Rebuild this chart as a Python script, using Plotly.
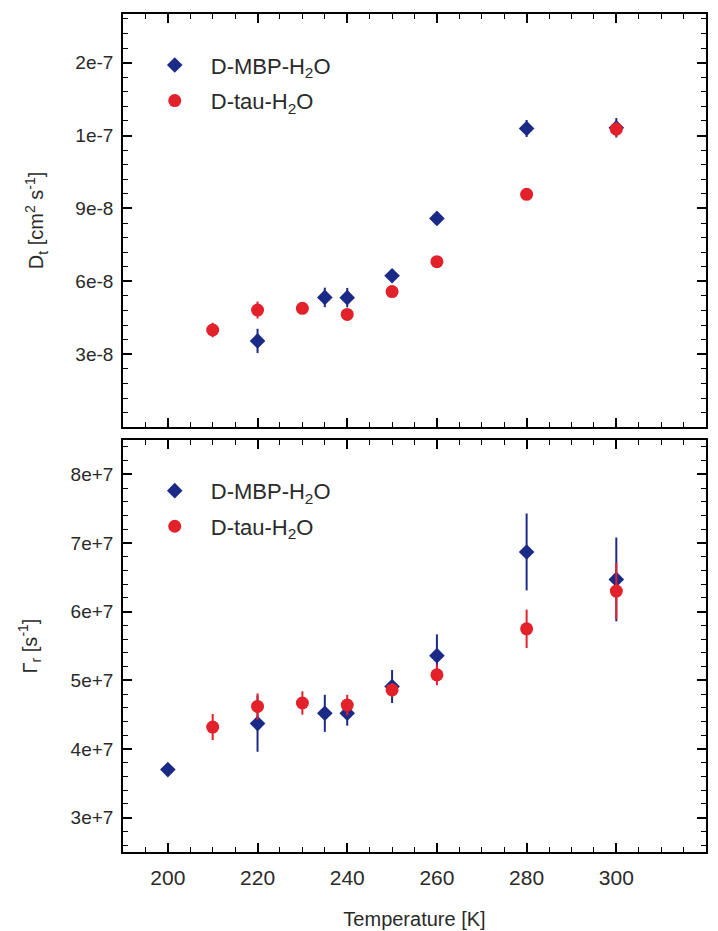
import plotly.graph_objects as go

# ---------------- data ----------------
temp_mbp_top = [220, 235, 240, 250, 260, 280, 300]
dt_mbp = [3.55e-8, 5.34e-8, 5.33e-8, 6.23e-8, 8.59e-8, 1.229e-7, 1.232e-7]
dt_mbp_err = [0.5e-8, 0.4e-8, 0.4e-8, 0.15e-8, 0.12e-8, 0.35e-8, 0.4e-8]

temp_tau_top = [210, 220, 230, 240, 250, 260, 280, 300]
dt_tau = [4.0e-8, 4.82e-8, 4.89e-8, 4.64e-8, 5.58e-8, 6.81e-8, 9.58e-8, 1.226e-7]
dt_tau_err = [0.3e-8, 0.35e-8, 0.2e-8, 0.1e-8, 0.1e-8, 0.1e-8, 0.1e-8, 0.3e-8]

temp_mbp_bot = [200, 220, 235, 240, 250, 260, 280, 300]
gr_mbp = [3.70e7, 4.37e7, 4.52e7, 4.52e7, 4.91e7, 5.36e7, 6.87e7, 6.47e7]
gr_mbp_err = [0.0, 0.41e7, 0.27e7, 0.18e7, 0.24e7, 0.31e7, 0.56e7, 0.61e7]

temp_tau_bot = [210, 220, 230, 240, 250, 260, 280, 300]
gr_tau = [4.32e7, 4.62e7, 4.67e7, 4.64e7, 4.86e7, 5.08e7, 5.75e7, 6.30e7]
gr_tau_err = [0.19e7, 0.19e7, 0.17e7, 0.15e7, 0.1e7, 0.15e7, 0.28e7, 0.41e7]

# tick labels as printed in the original (one significant digit)
top_tick_raw = ["0.3e-7", "0.6e-7", "0.9e-7", "1.2e-7", "1.5e-7"]
top_tick_text = ["3e-8", "6e-8", "9e-8", "1e-7", "2e-7"]

MINUS = "\u2212"
top_label_alias = {}
for raw, txt in zip(top_tick_raw, top_tick_text):
    top_label_alias[raw] = txt
    top_label_alias[raw.replace("-", MINUS)] = txt

NAME_MBP = "D-MBP-H<sub>2</sub>O"
NAME_TAU = "D-tau-H<sub>2</sub>O"

BLUE = "#1c2a87"
RED = "#e3212b"
FONT = "Liberation Sans"
TXT = "#2a2a2a"

fig = go.Figure()

def add(x, y, err, color, symbol, size, name, xa, ya, legend):
    fig.add_trace(go.Scatter(
        x=x, y=y, mode="markers", name=name, xaxis=xa, yaxis=ya, legend=legend,
        legendgroup=f"{legend}-{symbol}",
        marker=dict(color=color, symbol=symbol, size=size, line=dict(width=0)),
        error_y=dict(type="data", array=err, visible=True, color=color,
                     thickness=2, width=0),
    ))

add(temp_mbp_top, dt_mbp, dt_mbp_err, BLUE, "diamond", 12, NAME_MBP, "x", "y", "legend")
add(temp_tau_top, dt_tau, dt_tau_err, RED, "circle", 13, NAME_TAU, "x", "y", "legend")
add(temp_mbp_bot, gr_mbp, gr_mbp_err, BLUE, "diamond", 12, NAME_MBP, "x2", "y2", "legend2")
add(temp_tau_bot, gr_tau, gr_tau_err, RED, "circle", 13, NAME_TAU, "x2", "y2", "legend2")

axis_common = dict(
    showline=True, linecolor="black", linewidth=1.6, mirror="allticks",
    ticks="inside", ticklen=9, tickwidth=1.6, tickcolor="black",
    showgrid=False, zeroline=False, automargin=False,
)

def minor(dt):
    return dict(ticks="inside", ticklen=5, dtick=dt, tickcolor="black", tickwidth=1.4,
                showgrid=False)

H_TOP = 0.5072
H_BOT = 0.4916

legend_common = dict(xanchor="left", yanchor="top", bgcolor="rgba(255,255,255,0)",
                     font=dict(family=FONT, size=22, color=TXT),
                     tracegroupgap=4, itemwidth=62)

fig.update_layout(
    width=710, height=923,
    margin=dict(l=115, r=12, t=6, b=79),
    paper_bgcolor="white", plot_bgcolor="white",
    font=dict(family=FONT, color=TXT),
    xaxis=dict(axis_common, domain=[0, 1], anchor="y", range=[190, 320],
               tickmode="linear", tick0=200, dtick=20, showticklabels=False,
               minor=minor(5)),
    yaxis=dict(axis_common, domain=[H_TOP, 1], anchor="x", range=[1e-10, 1.7e-7],
               tickmode="linear", tick0=3e-8, dtick=3e-8, exponentformat="e",
               labelalias=top_label_alias, ticklabelstandoff=4,
               tickfont=dict(family=FONT, size=19, color=TXT),
               minor=minor(6e-9),
               title=dict(text="D<sub>t</sub> [cm<sup>2</sup> s<sup>-1</sup>]",
                          font=dict(family=FONT, size=20, color=TXT), standoff=26)),
    xaxis2=dict(axis_common, domain=[0, 1], anchor="y2", range=[190, 320],
                tickmode="linear", tick0=200, dtick=20, ticklabelstandoff=6,
                tickfont=dict(family=FONT, size=21, color=TXT),
                minor=minor(5),
                title=dict(text="Temperature [K]", font=dict(family=FONT, size=20, color=TXT),
                           standoff=24)),
    yaxis2=dict(axis_common, domain=[0, H_BOT], anchor="x2", range=[2.5e7, 8.5e7],
                tickmode="linear", tick0=0, dtick=1e7, exponentformat="e",
                ticklabelstandoff=4,
                tickfont=dict(family=FONT, size=19, color=TXT),
                minor=minor(2e6),
                title=dict(text="Γ<sub>r</sub> [s<sup>-1</sup>]",
                           font=dict(family=FONT, size=20, color=TXT), standoff=28)),
    legend=dict(legend_common, x=0.027, y=0.964),
    legend2=dict(legend_common, x=0.027, y=0.456),
    showlegend=True,
)

fig.write_html("out.html")
